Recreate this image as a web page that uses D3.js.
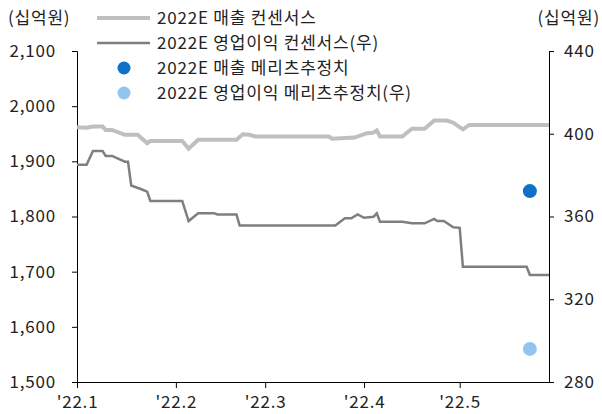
<!DOCTYPE html>
<html>
<head>
<meta charset="utf-8">
<script src="https://cdn.jsdelivr.net/npm/d3@7"></script>
<style>
    body { margin: 0; background: #fff; }
    svg text { font-family: "Noto Sans CJK KR", "Noto Sans", sans-serif; fill: #222; }
</style>
</head>
<body>
<div id="chart"></div>
<script>

// 2022E 매출 컨센서스 (left axis, 십억원)
let salesDates = ["2022-01-01","2022-01-04","2022-01-06","2022-01-09","2022-01-10","2022-01-12","2022-01-16","2022-01-20",
    "2022-01-23","2022-01-24","2022-02-03","2022-02-05","2022-02-08","2022-02-20","2022-02-22","2022-02-24","2022-02-26",
    "2022-03-21","2022-03-22","2022-03-29","2022-04-02","2022-04-04","2022-04-05","2022-04-06","2022-04-13","2022-04-16",
    "2022-04-20","2022-04-23","2022-04-27","2022-04-29","2022-05-02","2022-05-04","2022-05-29"];
let salesValues = [1962,1961,1963,1963,1957,1957,1948,1948,
    1933,1937,1937,1923,1939,1939,1949,1948,1945,
    1945,1941,1943,1951,1952,1956,1945,1945,1959,
    1959,1974,1974,1970,1958,1966,1966];

// 2022E 영업이익 컨센서스 (right axis, 십억원)
let opDates = ["2022-01-01","2022-01-04","2022-01-06","2022-01-09","2022-01-10","2022-01-12","2022-01-16","2022-01-17",
    "2022-01-18","2022-01-21","2022-01-23","2022-01-24","2022-02-03","2022-02-05","2022-02-08","2022-02-13","2022-02-14",
    "2022-02-20","2022-02-21","2022-03-23","2022-03-26","2022-03-28","2022-03-30","2022-04-01","2022-04-04","2022-04-05",
    "2022-04-06","2022-04-13","2022-04-16","2022-04-20","2022-04-23","2022-04-24","2022-04-26","2022-04-29","2022-05-01",
    "2022-05-02","2022-05-22","2022-05-23","2022-05-29"];
let opValues = [385,385,391.7,391.7,389.3,389.3,386.5,386.5,
    375,373.3,372,367.5,367.5,357.8,361.6,361.6,361,
    361,355.7,355.7,359.1,359.1,361,359.4,359.9,361.5,
    357.5,357.5,356.7,356.7,358.8,357.8,357.8,354.8,354.5,
    335.7,335.7,331.7,331.7];

// 메리츠 추정치
let estimateDate = "2022-05-23";
let salesEstimate = 1846;   // left
let opEstimate = 296;       // right

// axes
let leftTicks = [1500,1600,1700,1800,1900,2000,2100];
let rightTicks = [280,320,360,400,440];
let monthTicks = ["2022-01-01","2022-02-01","2022-03-01","2022-04-01","2022-05-01"];
let monthLabels = ["'22.1","'22.2","'22.3","'22.4","'22.5"];
let xDomain = ["2022-01-01","2022-05-29"];

let legendLabels = ["2022E 매출 컨센서스","2022E 영업이익 컨센서스(우)","2022E 매출 메리츠추정치","2022E 영업이익 메리츠추정치(우)"];

let parse = d3.timeParse("%Y-%m-%d");

let W = 602, H = 414;
let margin = {top: 51, right: 53, bottom: 32, left: 77};
let innerW = W - margin.left - margin.right;
let innerH = H - margin.top - margin.bottom;

let svg = d3.select("#chart").append("svg")
    .attr("width", W)
    .attr("height", H);

let g = svg.append("g")
    .attr("transform", "translate(" + margin.left + "," + margin.top + ")");

let x = d3.scaleTime().domain(xDomain.map(parse)).range([0, innerW]);
let yL = d3.scaleLinear().domain([1500, 2100]).range([innerH, 0]);
let yR = d3.scaleLinear().domain([280, 440]).range([innerH, 0]);

// left axis
let axL = g.append("g")
    .call(d3.axisLeft(yL).tickValues(leftTicks).tickFormat(d3.format(",")).tickSize(5).tickPadding(16));
// right axis
let axR = g.append("g")
    .attr("transform", "translate(" + innerW + ",0)")
    .call(d3.axisRight(yR).tickValues(rightTicks).tickSize(5).tickPadding(10));
// bottom axis
let axB = g.append("g")
    .attr("transform", "translate(0," + innerH + ")")
    .call(d3.axisBottom(x).tickValues(monthTicks.map(parse))
        .tickFormat((d, i) => monthLabels[i]).tickSize(6).tickSizeOuter(0).tickPadding(6));

[axL, axR, axB].forEach(a => {
    a.selectAll("text").attr("font-size", 17).style("letter-spacing", "0.8px");
    a.selectAll("path, line").attr("stroke", "#000");
});
axB.selectAll("text").attr("dy", "0.85em");

// unit labels
svg.append("text").attr("x", 8).attr("y", 24).attr("font-size", 17).style("letter-spacing", "0.8px").text("(십억원)");
svg.append("text").attr("x", 600).attr("y", 24).attr("font-size", 17).style("letter-spacing", "0.8px")
    .attr("text-anchor", "end").text("(십억원)");

// lines
let salesLine = d3.line().x((d, i) => x(parse(salesDates[i]))).y(d => yL(d));
let opLine = d3.line().x((d, i) => x(parse(opDates[i]))).y(d => yR(d));

g.append("path").datum(salesValues)
    .attr("d", salesLine)
    .attr("fill", "none")
    .attr("stroke", "#BFBFBF")
    .attr("stroke-width", 4);

g.append("path").datum(opValues)
    .attr("d", opLine)
    .attr("fill", "none")
    .attr("stroke", "#7F7F7F")
    .attr("stroke-width", 2.5);

// estimate dots
g.append("circle")
    .attr("cx", x(parse(estimateDate))).attr("cy", yL(salesEstimate))
    .attr("r", 7).attr("fill", "#1070C8");
g.append("circle")
    .attr("cx", x(parse(estimateDate))).attr("cy", yR(opEstimate))
    .attr("r", 7).attr("fill", "#92C4F2");

// legend
let legend = svg.append("g");
let rowY = [18, 43, 68, 93];
legend.append("line").attr("x1", 97).attr("x2", 150).attr("y1", rowY[0]).attr("y2", rowY[0])
    .attr("stroke", "#BFBFBF").attr("stroke-width", 4);
legend.append("line").attr("x1", 97).attr("x2", 150).attr("y1", rowY[1]).attr("y2", rowY[1])
    .attr("stroke", "#7F7F7F").attr("stroke-width", 2.5);
legend.append("circle").attr("cx", 124).attr("cy", rowY[2]).attr("r", 6.5).attr("fill", "#1070C8");
legend.append("circle").attr("cx", 124).attr("cy", rowY[3]).attr("r", 6.5).attr("fill", "#92C4F2");
legend.selectAll("text.lg").data(legendLabels).enter()
    .append("text")
    .attr("class", "lg")
    .attr("x", 157)
    .attr("y", (d, i) => rowY[i])
    .attr("dy", "0.35em")
    .attr("font-size", 17)
    .style("letter-spacing", "0.8px")
    .text(d => d);

</script>
</body>
</html>
